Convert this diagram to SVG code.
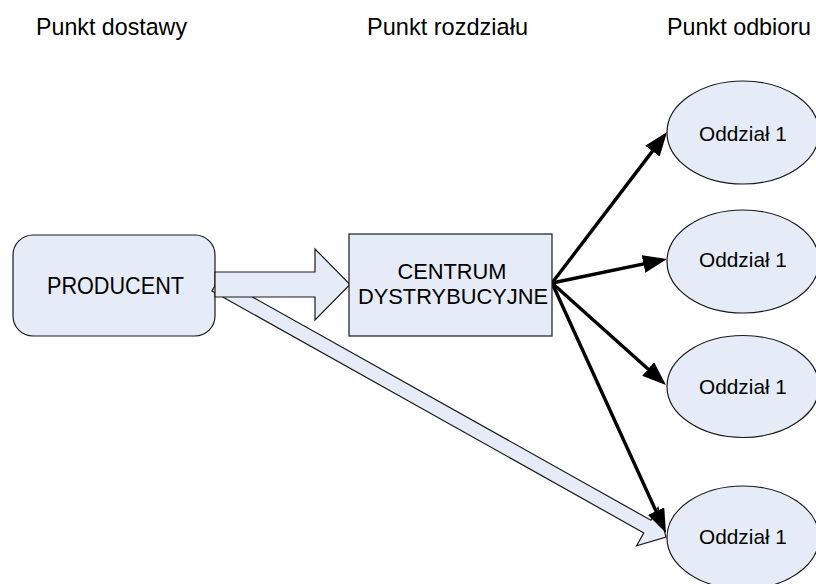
<svg xmlns="http://www.w3.org/2000/svg" width="816" height="584" viewBox="0 0 816 584">
<defs>
<style>
.hdr{font-family:"Liberation Sans",Arial,sans-serif;font-size:24.5px;fill:#000}
.lbl{font-family:"Liberation Sans",Arial,sans-serif;font-size:21.9px;fill:#000;text-anchor:middle}
.plbl{font-family:"Liberation Sans",Arial,sans-serif;font-size:23px;fill:#000;text-anchor:middle}
.olbl{font-family:"Liberation Sans",Arial,sans-serif;font-size:20.8px;fill:#000;text-anchor:middle}
.shape{fill:#E6ECF7;stroke:#1a1a1a;stroke-width:1.2}
.conn{fill:none;stroke:#000;stroke-width:3.4}
</style>
<marker id="ah" markerUnits="userSpaceOnUse" markerWidth="25" markerHeight="18" refX="4" refY="9" orient="auto">
<path d="M0,0 L24,9 L0,18 z" fill="#000"/>
</marker>
</defs>
<rect width="816" height="584" fill="#fff"/>

<g id="headers">
<text class="hdr" x="36" y="35" textLength="151" lengthAdjust="spacingAndGlyphs">Punkt dostawy</text>
<text class="hdr" x="367" y="35" textLength="161" lengthAdjust="spacingAndGlyphs">Punkt rozdziału</text>
<text class="hdr" x="667" y="35" textLength="144" lengthAdjust="spacingAndGlyphs">Punkt odbioru</text>
</g>

<g id="producent">
<rect class="shape" x="13" y="235" width="202" height="101" rx="20" ry="20"/>
<text class="plbl" x="115.5" y="294" textLength="137" lengthAdjust="spacingAndGlyphs">PRODUCENT</text>
</g>

<g id="connectors">
<polygon id="diag-arrow" class="shape" transform="translate(215.5,284.6) rotate(29.26)" points="0,-7.25 495,-7.25 495,-22 516.4,0 495,22 495,7.25 0,7.25"/>
<polygon id="main-arrow" class="shape" points="215,272 315,272 315,249 350,284.5 315,320 315,297 215,297"/>
<line class="conn" x1="552" y1="283" x2="654.9" y2="147.9" marker-end="url(#ah)"/>
<line class="conn" x1="552" y1="283" x2="647.4" y2="263.1" marker-end="url(#ah)"/>
<line class="conn" x1="552" y1="283" x2="651.1" y2="371.7" marker-end="url(#ah)"/>
<line class="conn" x1="552" y1="283" x2="657.7" y2="514.8" marker-end="url(#ah)"/>
</g>

<g id="centrum">
<rect class="shape" x="349" y="234" width="203" height="102"/>
<text class="lbl" x="452" y="279" textLength="109" lengthAdjust="spacingAndGlyphs">CENTRUM</text>
<text class="lbl" x="453" y="304" textLength="190" lengthAdjust="spacingAndGlyphs">DYSTRYBUCYJNE</text>
</g>

<g id="oddzial1">
<ellipse class="shape" cx="743" cy="132.5" rx="76" ry="51.5"/>
<text class="olbl" x="743" y="141">Oddział 1</text>
</g>
<g id="oddzial2">
<ellipse class="shape" cx="743" cy="261.5" rx="76" ry="51.5"/>
<text class="olbl" x="743" y="267">Oddział 1</text>
</g>
<g id="oddzial3">
<ellipse class="shape" cx="743" cy="386.5" rx="76" ry="51"/>
<text class="olbl" x="743" y="394">Oddział 1</text>
</g>
<g id="oddzial4">
<ellipse class="shape" cx="743" cy="537.5" rx="76" ry="51.5"/>
<text class="olbl" x="743" y="544">Oddział 1</text>
</g>
</svg>
